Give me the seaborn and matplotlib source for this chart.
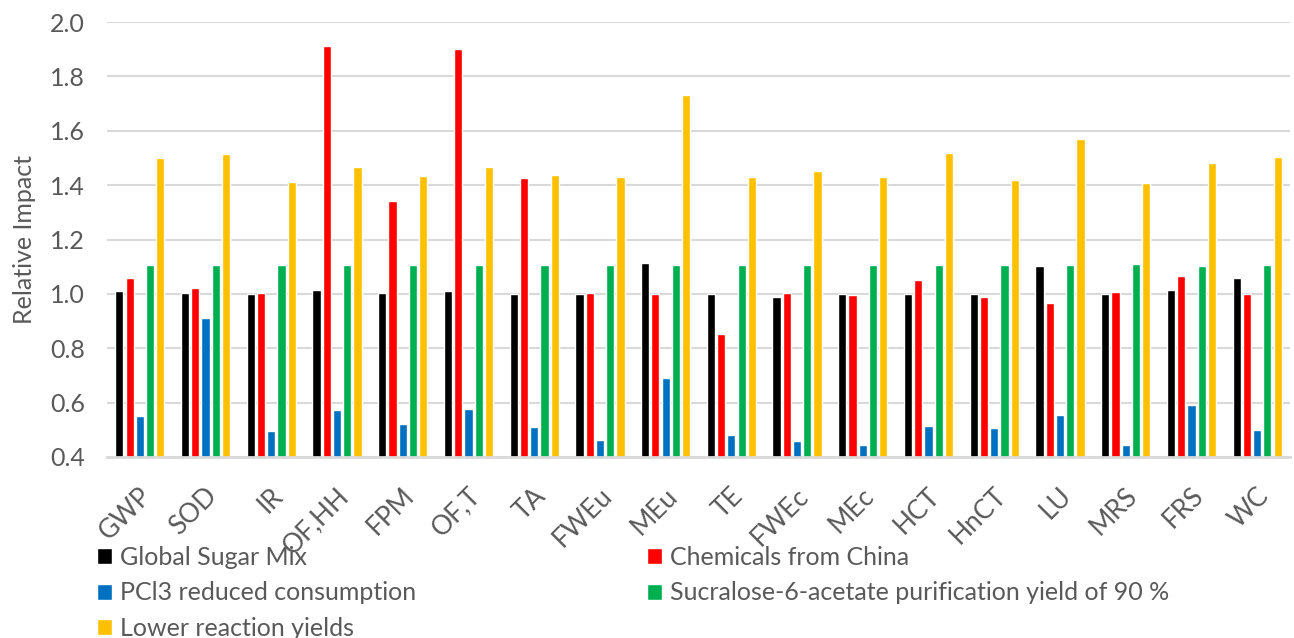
import numpy as np
import pandas as pd
import matplotlib
matplotlib.use("Agg")
import matplotlib.pyplot as plt
from matplotlib.transforms import ScaledTranslation
import seaborn as sns

categories = ["GWP", "SOD", "IR", "OF,HH", "FPM", "OF,T", "TA", "FWEu", "MEu",
              "TE", "FWEc", "MEc", "HCT", "HnCT", "LU", "MRS", "FRS", "WC"]
series_names = ["Global Sugar Mix", "Chemicals from China", "PCl3 reduced consumption",
                "Sucralose-6-acetate purification yield of 90 %", "Lower reaction yields"]

global_sugar = [1.01, 1.003, 1.0, 1.015, 1.005, 1.01, 1.0, 1.0, 1.113,
                1.0, 0.99, 1.0, 1.0, 1.0, 1.103, 0.998, 1.015, 1.06]
chem_china = [1.06, 1.023, 1.003, 1.91, 1.34, 1.90, 1.425, 1.003, 1.0,
              0.852, 1.003, 0.997, 1.052, 0.988, 0.965, 1.008, 1.067, 0.998]
pcl3 = [0.55, 0.91, 0.495, 0.573, 0.522, 0.575, 0.51, 0.462, 0.69,
        0.482, 0.46, 0.443, 0.515, 0.505, 0.555, 0.445, 0.59, 0.50]
purif90 = [1.105, 1.108, 1.105, 1.107, 1.105, 1.107, 1.107, 1.108, 1.107,
           1.108, 1.107, 1.107, 1.107, 1.107, 1.108, 1.11, 1.104, 1.108]
lower_yield = [1.50, 1.515, 1.413, 1.467, 1.432, 1.467, 1.437, 1.43, 1.733,
               1.43, 1.452, 1.43, 1.518, 1.42, 1.57, 1.408, 1.483, 1.505]

colors = ["#000000", "#FF0000", "#0070C0", "#00B050", "#FFC000"]

rows = []
for name, vals in zip(series_names, [global_sugar, chem_china, pcl3, purif90, lower_yield]):
    for c, v in zip(categories, vals):
        rows.append({"cat": c, "series": name, "val": v})
df = pd.DataFrame(rows)

sns.set_theme(style="white")
plt.rcParams['font.family'] = ['Lato', 'DejaVu Sans']
text_col = "#595959"
fs = 18

fig = plt.figure(figsize=(12.94, 6.38), dpi=100)
ax = fig.add_axes([107/1294, 1 - 457/638, (1290-107)/1294, (457-22)/638])

sns.barplot(data=df, x="cat", y="val", hue="series", order=categories,
            hue_order=series_names, palette=colors, width=0.78, gap=0.2,
            saturation=1, ax=ax, legend=True)

ax.set_ylim(0.4, 2.0)
yt = np.arange(0.4, 2.01, 0.2)
ax.set_yticks(yt)
ax.set_yticklabels([f"{t:.1f}" for t in yt], fontsize=fs, color=text_col)
ax.set_xlim(-0.5, len(categories) - 0.5)
ax.yaxis.grid(True, color="#D9D9D9", linewidth=1.5)
ax.set_axisbelow(True)
for s in ["top", "right", "left"]:
    ax.spines[s].set_visible(False)
ax.spines["bottom"].set_color("#D9D9D9")
ax.spines["bottom"].set_linewidth(2)
ax.tick_params(axis="y", length=0, pad=16)
ax.tick_params(axis="x", length=0, pad=13)
ax.set_xlabel("")
ax.set_ylabel("Relative Impact", fontsize=fs, color=text_col, labelpad=10)
plt.setp(ax.get_xticklabels(), rotation=45, ha="right", rotation_mode="anchor",
         fontsize=19, color=text_col)
for lab in ax.get_xticklabels():
    lab.set_transform(lab.get_transform() + ScaledTranslation(-1/100, -8/100, fig.dpi_scale_trans))

handles, labels = ax.get_legend_handles_labels()
ax.get_legend().remove()
common = dict(loc="upper left", frameon=False, fontsize=fs, labelcolor=text_col,
              handlelength=0.6, handleheight=0.6, handletextpad=0.3,
              labelspacing=0.5, borderpad=0, borderaxespad=0)
fig.legend([handles[i] for i in [0, 2, 4]], [labels[i] for i in [0, 2, 4]],
           bbox_to_anchor=(97/1294, 1 - 546/638), **common)
fig.legend([handles[i] for i in [1, 3]], [labels[i] for i in [1, 3]],
           bbox_to_anchor=(647/1294, 1 - 546/638), **common)

fig.savefig("out.png", dpi=100)
